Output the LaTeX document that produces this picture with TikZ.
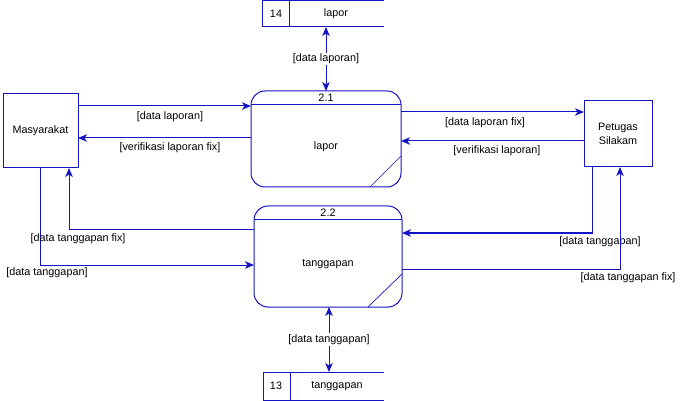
\documentclass[tikz,border=0pt]{standalone}
\usepackage{fontspec}
\setmainfont{Liberation Sans}
\usetikzlibrary{arrows.meta}
\definecolor{dfd}{RGB}{20,20,195}
\begin{document}
\begin{tikzpicture}[x=1pt,y=-1pt,
  flow/.style={draw=dfd,line width=1pt,-{Stealth[length=9pt,width=7.5pt,inset=2.5pt]}},
  biflow/.style={draw=dfd,line width=1pt,{Stealth[length=9pt,width=7.5pt,inset=2.5pt]}-{Stealth[length=9pt,width=7.5pt,inset=2.5pt]}},
  lbl/.style={font=\fontsize{10.8}{12}\selectfont,text=black,inner sep=1pt},
  wlbl/.style={lbl,fill=white},
  ent/.style={draw=dfd,line width=1pt,fill=white,inner sep=0pt,align=center,font=\fontsize{10.8}{13.5}\selectfont},
  proc/.style={draw=dfd,line width=1pt,rounded corners=14pt},
  thin/.style={draw=dfd,line width=0.7pt}]
\useasboundingbox (0,0) rectangle (686,401);

% entities
\node[ent,minimum width=75pt,minimum height=74pt] (mas) at (40.5,131) {Masyarakat};
\node[ent,minimum width=68pt,minimum height=66pt] (pet) at (618,134) {Petugas\\Silakam};

% process 2.1
\draw[proc] (251,91) rectangle (401,187);
\draw[thin,line width=1pt] (251,105) -- (401,105);
\draw[thin] (370,187) -- (401,156);
\node[lbl] at (326,98) {2.1};
\node[lbl] (p1) at (326,147) {lapor};
\coordinate (p1top) at (326,91);

% process 2.2
\draw[proc] (254,206) rectangle (402,307);
\draw[thin,line width=1pt] (254,220) -- (402,220);
\draw[thin] (368,307) -- (402,274);
\node[lbl] at (328,213) {2.2};
\node[lbl] (p2) at (328,264) {tanggapan};
\coordinate (p2bot) at (329,307);

% stores
\draw[draw=dfd,line width=1pt] (384,1) -- (262,1) -- (262,27) -- (384,27);
\draw[draw=dfd,line width=1pt] (289,1) -- (289,27);
\node[lbl] at (276,14) {14};
\node[lbl] at (336,14) {lapor};
\coordinate (s14) at (326,27);

\draw[draw=dfd,line width=1pt] (384,372) -- (263,372) -- (263,400) -- (384,400);
\draw[draw=dfd,line width=1pt] (290,372) -- (290,400);
\node[lbl] at (276,386) {13};
\node[lbl] at (337,386) {tanggapan};
\coordinate (s13) at (329,372);

% store flows
\draw[biflow] (s14) -- (p1top) node[wlbl,midway] {[data laporan]};
\draw[biflow] (p2bot) -- (s13) node[wlbl,pos=0.5] {[data tanggapan]};

% Masyarakat <-> 2.1
\draw[flow] (78,106) -- (251,106);
\node[lbl] at (170,117) {[data laporan]};
\draw[flow] (251,138) -- (78,138);
\node[lbl] at (170,148) {[verifikasi laporan fix]};

% Masyarakat <-> 2.2
\draw[flow] (40,168) -- (40,265) -- (254,265);
\node[lbl] at (47,273) {[data tanggapan]};
\draw[flow] (254,230) -- (69,230) -- (69,168);
\node[lbl] at (78,239) {[data tanggapan fix]};

% 2.1 <-> Petugas
\draw[flow] (401,112) -- (584,112);
\node[lbl] at (485,123) {[data laporan fix]};
\draw[flow] (584,141) -- (401,141);
\node[lbl] at (497,151) {[verifikasi laporan]};

% 2.2 <-> Petugas
\draw[flow] (592,167) -- (592,233) -- (402,233);
\node[lbl] at (600,242) {[data tanggapan]};
\draw[flow] (402,269) -- (620,269) -- (620,167);
\node[lbl] at (628,278) {[data tanggapan fix]};
\end{tikzpicture}
\end{document}
